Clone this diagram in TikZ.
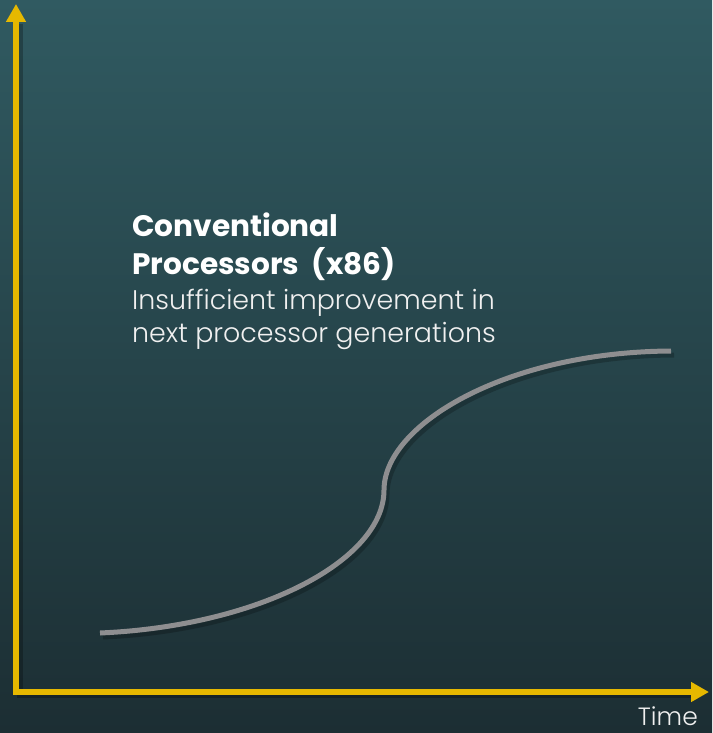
\documentclass[tikz,border=0pt]{standalone}
\usepackage{fontspec}
\setmainfont{Poppins}
\newfontfamily\lightfont{Poppins}[UprightFont=* Light]
\usetikzlibrary{arrows.meta}
\definecolor{bgtop}{HTML}{305A61}
\definecolor{bgbot}{HTML}{1C2E33}
\definecolor{axisyellow}{HTML}{E6B800}
\definecolor{curvegray}{HTML}{8E8E90}
\tikzset{
  axis/.style={draw=axisyellow, line width=6pt, line join=miter,
    -{Triangle[length=18pt,width=19pt]}},
  axisshadow/.style={draw=black, opacity=0.25, line width=6pt},
  curve/.style={draw=curvegray, line width=5pt},
  curveshadow/.style={draw=black, opacity=0.22, line width=5pt},
  title/.style={anchor=base west, inner sep=0pt, text=white,
    font=\fontsize{29.6}{32}\selectfont\bfseries},
  body/.style={anchor=base west, inner sep=0pt, text=white!94!black,
    font=\fontsize{26.9}{30}\lightfont},
}
\begin{document}
\begin{tikzpicture}[x=1pt,y=-1pt]
  % background
  \shade[top color=bgtop, bottom color=bgbot] (0,0) rectangle (712,733);
  \useasboundingbox (0,0) rectangle (712,733);

  % axis points
  \coordinate (ytip) at (16,4);
  \coordinate (origin) at (16,692);
  \coordinate (xtip) at (709,692);

  % growth curve points
  \coordinate (c0) at (100,633);
  \coordinate (c1) at (384,490);
  \coordinate (c2) at (671,351);

  % soft shadows
  \draw[axisshadow] (20,24) -- (20,695) -- (692,695);
  \draw[curveshadow] ([shift={(3,4)}]c0) .. controls (263,630) and (387,564) .. ([shift={(3,4)}]c1)
    .. controls (387,429) and (508,356) .. ([shift={(3,4)}]c2);

  % axes
  \draw[axis] (origin) -- (ytip);
  \draw[axis] ([xshift=-3pt]origin) -- (xtip);

  % curve
  \draw[curve] (c0) .. controls (260,626) and (384,560) .. (c1)
    .. controls (384,425) and (505,352) .. (c2);

  % labels
  \node[title] (t1) at (132,236) {Conventional};
  \node[title] (t2) at (132,274) {Processors\ \ (x86)};
  \node[body] (b1) at (132,309) {Insufficient improvement in};
  \node[body] (b2) at (132,342) {next processor generations};
  \node[anchor=base east, inner sep=0pt, text depth=0pt, text=white!94!black,
    font=\fontsize{25}{28}\lightfont] (time) at (698,725) {Time};
\end{tikzpicture}
\end{document}
